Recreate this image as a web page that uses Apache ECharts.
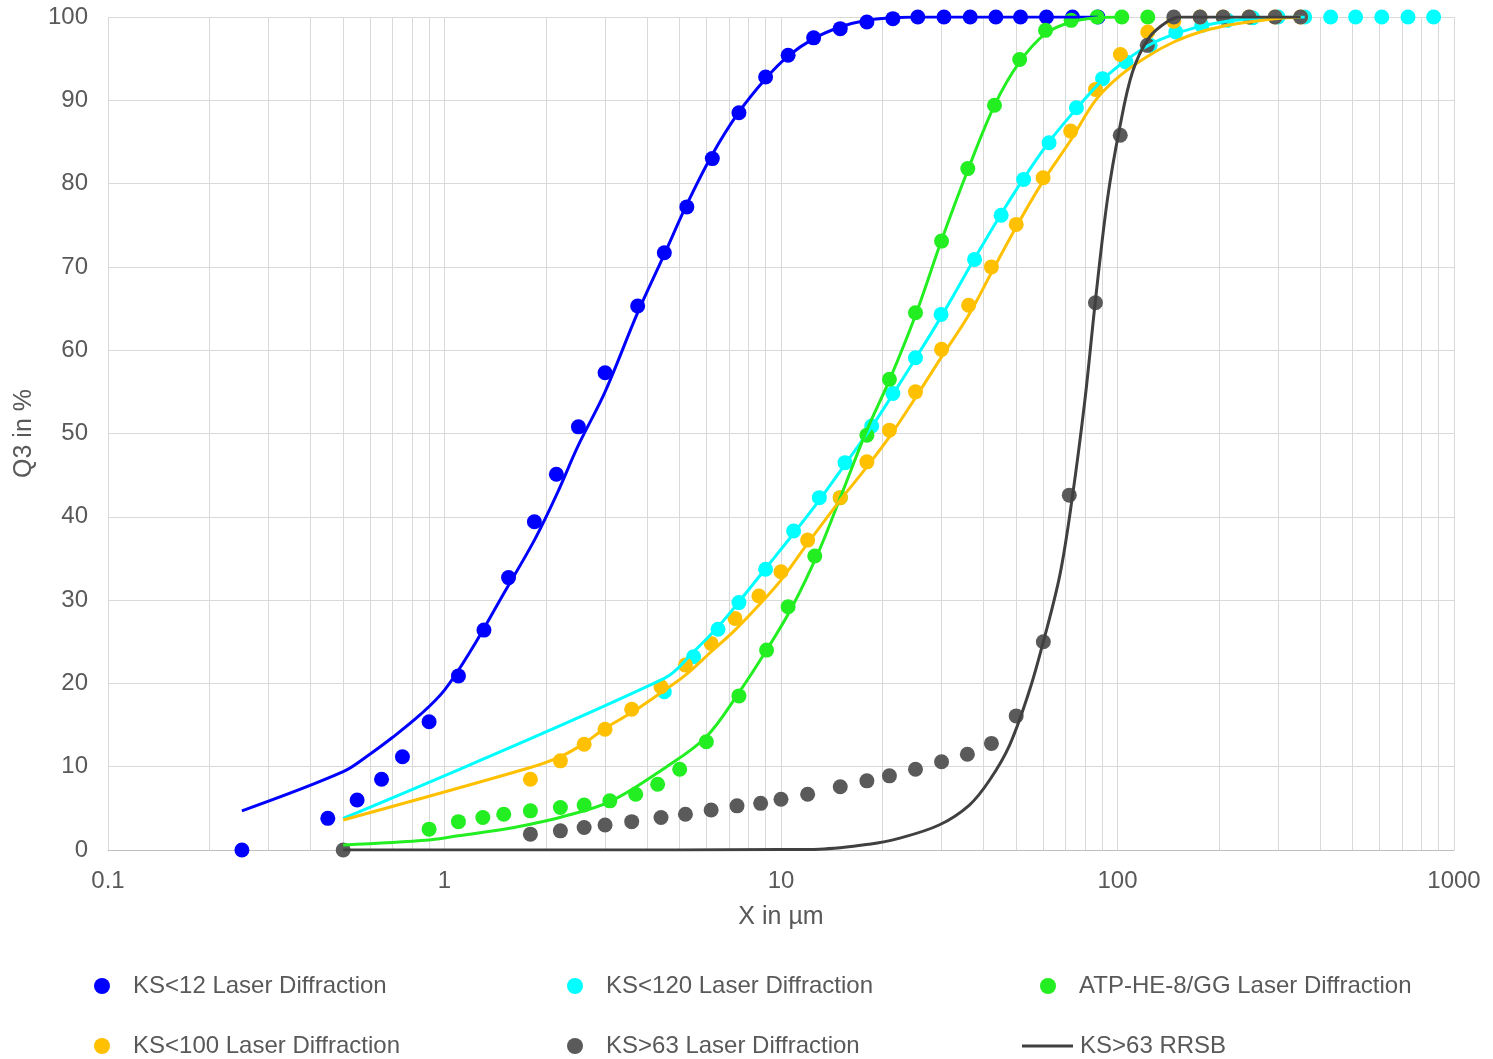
<!DOCTYPE html>
<html>
<head>
<meta charset="utf-8">
<script src="https://cdn.jsdelivr.net/npm/echarts@6/dist/echarts.min.js"></script>
<style>html,body{margin:0;padding:0;background:#fff;}#c{width:1493px;height:1059px;}</style>
</head>
<body>
<div id="c"></div>
<script>
// ---- data ----
var xTickLabels = ['0.1','1','10','100','1000'];
var yTicks = [0,10,20,30,40,50,60,70,80,90,100];

var ks12X = [0.25,0.45,0.55,0.65,0.75,0.9,1.1,1.31,1.55,1.85,2.15,2.5,3.0,3.75,4.5,5.25,6.25,7.5,9.0,10.5,12.5,15,18,21.5,25.5,30.5,36.5,43.5,51.5,61.5,73.5,87.5];
var ks12Y = [0,3.8,6.0,8.5,11.2,15.4,20.9,26.4,32.7,39.4,45.1,50.8,57.3,65.3,71.7,77.2,83.0,88.5,92.8,95.4,97.5,98.6,99.4,99.8,100,100,100,100,100,100,100,100];
var ks12FitX = [0.25,0.5,0.6,0.7,0.85,1.0,1.2,1.5,1.85,2.15,2.5,3.0,3.75,4.5,5.25,6.25,7.5,9,10.5,12.5,15,18,21.5,25.5,30.5,36.5,43.5,51.5,61.5,73.5,87.5];
var ks12FitY = [4.7,9.4,11.5,13.5,16.3,19.2,24,30.8,37.2,42.6,48.6,55,64.5,71.5,77.5,83.5,88.6,92.6,95.3,97.4,98.8,99.6,99.9,100,100,100,100,100,100,100,100];

var ks120X = [4.5,5.5,6.5,7.5,9.0,10.9,13.0,15.5,18.6,21.5,25.1,29.9,37.6,45.1,52.6,62.6,75.5,90.3,106,125,149,178,212,252,300,360,430,510,610,730,870];
var ks120Y = [19.0,23.2,26.5,29.7,33.7,38.3,42.3,46.5,50.9,54.8,59.1,64.3,70.9,76.2,80.5,84.9,89.1,92.6,94.6,96.6,98.2,99.0,99.6,99.9,100,100,100,100,100,100,100];
var ks120FitX = [0.5,4.5,5.5,6.5,7.5,9,10.9,13,15.5,18.6,21.5,25.1,29.9,37.6,45,52.6,62.6,75.5,90,106,125,149,178,212,252,300,360];
var ks120FitY = [3.8,20.6,23.8,26.8,29.8,33.8,38.0,42.0,46.3,50.8,54.7,59.0,64.0,71.0,76.3,80.6,85.0,89.0,92.4,94.8,96.7,98.0,98.9,99.5,99.8,99.95,100];

var atpX = [0.9,1.1,1.3,1.5,1.8,2.21,2.6,3.1,3.7,4.3,5.0,6.0,7.5,9.06,10.5,12.6,15.0,18.0,21.0,25.1,30.0,35.9,43.1,51.2,61.1,72.8,87,103,123];
var atpY = [2.5,3.4,3.9,4.3,4.7,5.1,5.4,5.9,6.7,7.9,9.7,13.0,18.5,24.0,29.2,35.3,42.3,49.8,56.5,64.5,73.1,81.8,89.4,94.9,98.4,99.6,100,100,100];
var atpFitX = [0.5,0.9,1.1,1.5,1.8,2.2,3.1,4.57,6.0,7.5,9.06,10.8,13,15,18,21,25.1,30,35.9,43.1,51.2,61.1,72.8,87,103];
var atpFitY = [0.6,1.2,1.7,2.5,3.1,3.9,5.8,10.0,13.6,18.9,24.0,29.2,36.0,42.3,50.4,56.4,64.2,73.2,81.6,89.4,94.6,98.0,99.4,99.9,100];

var ks100X = [1.8,2.21,2.6,3.0,3.6,4.4,5.2,6.2,7.3,8.6,10.0,12.0,15.0,18.0,21.0,25.1,30.0,36.1,42.2,50.0,60.1,72.6,86.0,102,123,147,176,206,246,294,350];
var ks100Y = [8.5,10.7,12.7,14.5,16.9,19.6,22.2,24.8,27.8,30.5,33.4,37.2,42.3,46.6,50.4,55.0,60.1,65.4,70.0,75.1,80.7,86.3,91.3,95.5,98.2,99.5,100,100,100,100,100];
var ks100FitX = [0.5,1.8,2.21,2.6,3.0,3.6,4.4,5.2,6.2,7.3,8.6,10,12,15,18,21,25.1,30,36.1,42.2,50,60.1,72.6,86,102,123,147,176,206,246,294,350];
var ks100FitY = [3.6,9.9,11.2,12.8,14.6,16.5,18.9,21.0,23.8,26.4,29.4,32.4,36.8,42.0,46.0,49.6,54.3,59.2,64.2,69.3,74.8,80.3,85.2,90.0,93.0,95.3,97.0,98.2,98.9,99.4,99.8,100];

var ks63X = [0.5,1.8,2.21,2.6,3.0,3.6,4.4,5.2,6.2,7.4,8.7,10.0,12.0,15.0,18.0,21.0,25.1,30.0,35.8,42.2,50.0,60.2,71.9,86.0,101.9,122.6,147,176,206,246,294,350];
var ks63Y = [0,1.9,2.3,2.7,3.0,3.4,3.9,4.3,4.8,5.3,5.6,6.1,6.7,7.6,8.3,8.9,9.7,10.6,11.5,12.8,16.1,25.0,42.6,65.7,85.8,96.6,100,100,100,100,100,100];
var rrsbX = [0.5,5,10,13,18.3,22.4,29.5,36.3,41.7,47.8,54.8,60.2,67.4,73.2,80,86,93.4,101.4,110.8,124,140,153,200,350];
var rrsbY = [0,0,0.05,0.1,0.7,1.4,3.0,5.4,8.4,12.6,19.2,25,33,42,54,66,78.2,86.6,93.4,97.5,99.4,100,100,100];

// ---- build ----
function pairs(xs, ys){ return xs.map(function(x,i){ return [x, ys[i]]; }); }
var FONT = 'Liberation Sans, Arial, sans-serif';
var TXT = '#595959';

// log grid lines (2..9 per decade, plus decades)
var gridVals = [];
[0.1,1,10,100].forEach(function(d){ for (var m=2;m<=9;m++) gridVals.push(+(d*m).toPrecision(3)); });
[1,10,100].forEach(function(d){ gridVals.push(d); });

var chart = echarts.init(document.getElementById('c'), null, {renderer:'canvas'});

function scatter(name, xs, ys, color, z){
  return {name:name, type:'scatter', data:pairs(xs,ys), symbol:'circle', symbolSize:15,
          itemStyle:{color:color, opacity:1}, z:z, animation:false};
}
function fit(name, xs, ys, color, w, z){
  return {name:name, type:'line', data:pairs(xs,ys), showSymbol:false, symbol:'none', smooth:0.35,
          lineStyle:{color:color, width:w}, itemStyle:{color:color}, z:z, animation:false};
}
function legendDot(name, left, top){
  return {data:[{name:name, icon:'circle'}], left:left, top:top, itemWidth:16, itemHeight:16,
          textStyle:{fontFamily:FONT, fontSize:24, color:TXT, padding:[0,0,0,18]}, selectedMode:false};
}
function legendLine(name, left, top){
  return {data:[{name:name, icon:'rect'}], left:left, top:top, itemWidth:51, itemHeight:3,
          textStyle:{fontFamily:FONT, fontSize:24, color:TXT, padding:[0,0,0,2]}, selectedMode:false};
}

var C_BLUE='#0000FF', C_CYAN='#00FFFF', C_GREEN='#22EE22', C_ORANGE='#FFC000', C_GRAY='#5A5A5A', C_DARK='#404040';

chart.setOption({
  backgroundColor:'#ffffff',
  animation:false,
  grid:{left:108, right:39, top:17, bottom:209, containLabel:false},
  xAxis:{type:'log', logBase:10, min:0.1, max:1000,
    name:'X in µm', nameLocation:'middle', nameGap:55,
    nameTextStyle:{fontFamily:FONT, fontSize:25, color:TXT},
    axisLine:{show:true, lineStyle:{color:'#BFBFBF', width:1}},
    axisTick:{show:false},
    splitLine:{show:true, lineStyle:{color:'#D9D9D9', width:1}},
    axisLabel:{fontFamily:FONT, fontSize:24, color:TXT, margin:19,
      formatter:function(v){ var i=Math.round(Math.log10(v))+1; return xTickLabels[i]!==undefined?xTickLabels[i]:String(v); }}
  },
  yAxis:{type:'value', min:0, max:100, interval:10,
    name:'Q3 in %', nameLocation:'middle', nameGap:68,
    nameTextStyle:{fontFamily:FONT, fontSize:25, color:TXT},
    axisLine:{show:false}, axisTick:{show:false},
    splitLine:{show:true, lineStyle:{color:'#D9D9D9', width:1}},
    axisLabel:{fontFamily:FONT, fontSize:24, color:TXT, margin:20,
      formatter:function(v){ return yTicks.indexOf(v)>=0 ? String(v) : ''; }}
  },
  legend:[
    legendDot('KS<12 Laser Diffraction', 89, 969),
    legendDot('KS<120 Laser Diffraction', 562, 969),
    legendDot('ATP-HE-8/GG Laser Diffraction', 1035, 969),
    legendDot('KS<100 Laser Diffraction', 89, 1029),
    legendDot('KS>63 Laser Diffraction', 562, 1029),
    legendLine('KS>63 RRSB', 1017, 1029)
  ],
  series:[
    {name:'grid', type:'line', data:[], z:1, silent:true, animation:false,
      markLine:{silent:true, z:1, symbol:['none','none'], label:{show:false}, animation:false,
        emphasis:{disabled:true},
        lineStyle:{color:'#D9D9D9', width:1, type:'solid'},
        data:gridVals.map(function(v){ return {xAxis:v}; })}},
    scatter('KS<12 Laser Diffraction', ks12X, ks12Y, C_BLUE, 3),
    scatter('KS<120 Laser Diffraction', ks120X, ks120Y, C_CYAN, 4),
    scatter('ATP-HE-8/GG Laser Diffraction', atpX, atpY, C_GREEN, 5),
    scatter('KS<100 Laser Diffraction', ks100X, ks100Y, C_ORANGE, 6),
    scatter('KS>63 Laser Diffraction', ks63X, ks63Y, C_GRAY, 7),
    fit('KS<12 RRSB', ks12FitX, ks12FitY, C_BLUE, 3, 8),
    fit('KS<120 RRSB', ks120FitX, ks120FitY, C_CYAN, 3, 9),
    fit('ATP-HE-8/GG RRSB', atpFitX, atpFitY, C_GREEN, 3, 10),
    fit('KS<100 RRSB', ks100FitX, ks100FitY, C_ORANGE, 3, 11),
    fit('KS>63 RRSB', rrsbX, rrsbY, C_DARK, 3, 12)
  ]
});
</script>
</body>
</html>
